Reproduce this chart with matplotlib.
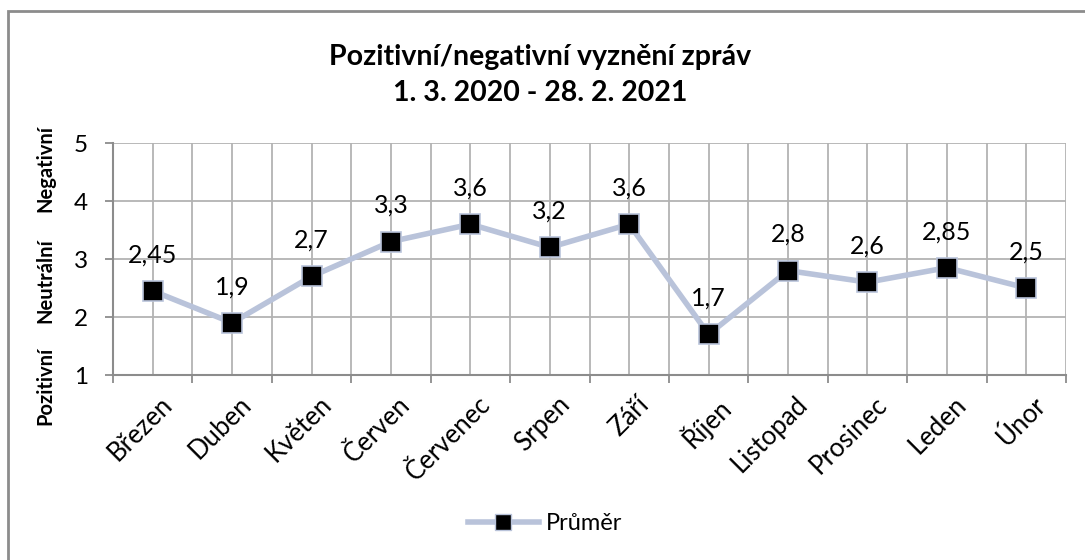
import matplotlib
matplotlib.use("Agg")
import matplotlib.pyplot as plt
from matplotlib.patches import Rectangle
from matplotlib.lines import Line2D
import numpy as np

plt.rcParams['font.family'] = ['Lato', 'DejaVu Sans']

months = ["Březen", "Duben", "Květen", "Červen", "Červenec", "Srpen", "Září",
          "Říjen", "Listopad", "Prosinec", "Leden", "Únor"]
values = [2.45, 1.9, 2.7, 3.3, 3.6, 3.2, 3.6, 1.7, 2.8, 2.6, 2.85, 2.5]
value_labels = ["2,45", "1,9", "2,7", "3,3", "3,6", "3,2", "3,6", "1,7", "2,8", "2,6", "2,85", "2,5"]
y_ticks = [1, 2, 3, 4, 5]
side_labels = ["Pozitivní", "Neutrální", "Negativní"]
title = "Pozitivní/negativní vyznění zpráv\n1. 3. 2020 - 28. 2. 2021"
series_name = "Průměr"

W, H = 1085, 560
fig = plt.figure(figsize=(W / 100, H / 100), dpi=100)
fig.patch.set_facecolor("white")
fig.patches.append(Rectangle((8 / W, -0.1), 1.2, 1 - 11 / H + 0.1, transform=fig.transFigure,
                             fill=False, edgecolor="#8C8C8C", linewidth=2))

ax = fig.add_axes([113 / W, (H - 375) / H, (1066 - 113) / W, (375 - 143) / H])
n = len(months)
x = np.arange(n)
ax.set_xlim(-0.5, n - 0.5)
ax.set_ylim(1, 5)

grid_c = "#B3B3B3"
for xb in np.arange(n + 1) - 0.5:
    ax.axvline(xb, color=grid_c, lw=1.3, zorder=0)
for xc in x:
    ax.axvline(xc, color=grid_c, lw=1.3, zorder=0)
for yv in y_ticks:
    ax.axhline(yv, color=grid_c, lw=1.3, zorder=0)

for s in ["top", "right"]:
    ax.spines[s].set_visible(False)
ax.spines["left"].set_color("#8C8C8C")
ax.spines["bottom"].set_color("#8C8C8C")
ax.spines["left"].set_linewidth(1.5)
ax.spines["bottom"].set_linewidth(1.5)

ax.set_yticks(y_ticks)
ax.set_yticklabels([str(v) for v in y_ticks], fontsize=17.5)
ax.tick_params(axis="y", length=6, width=1.3, color="#8C8C8C", pad=12)

ax.set_xticks(np.arange(n + 1) - 0.5)
ax.set_xticklabels([])
ax.tick_params(axis="x", length=6, width=1.3, color="#8C8C8C")
for xi, m in zip(x, months):
    ax.annotate(m, xy=(xi, 1), xycoords="data", xytext=(5, -12), textcoords="offset points",
                rotation=45, ha="right", va="top", rotation_mode="anchor", fontsize=18.5)

line_c = "#B9C3DA"
ax.plot(x, values, color=line_c, lw=4, marker="s", markersize=14,
        markerfacecolor="black", markeredgecolor=line_c, markeredgewidth=1.2, zorder=3,
        clip_on=False)
for xi, v, lab in zip(x, values, value_labels):
    ax.annotate(lab, xy=(xi, v), xytext=(0, 26), textcoords="offset points",
                ha="center", va="center", fontsize=18)

for lab, ypix in zip(side_labels, [386, 281, 168]):
    fig.text(45 / W, 1 - ypix / H, lab, rotation=90,
             ha="center", va="center", fontsize=14.5, fontweight="bold")

fig.text(540 / W, (H - 75) / H, title, ha="center", va="center", fontsize=20.5,
         fontweight="bold", linespacing=1.45)

handle = Line2D([0], [0], color=line_c, lw=4, marker="s", markersize=11,
                markerfacecolor="black", markeredgecolor=line_c)
fig.legend([handle], [series_name], loc="center", bbox_to_anchor=(545 / W, (H - 524) / H),
           frameon=False, fontsize=17, handlelength=3, handletextpad=0.3)

fig.savefig("out.png", dpi=100, facecolor="white")
